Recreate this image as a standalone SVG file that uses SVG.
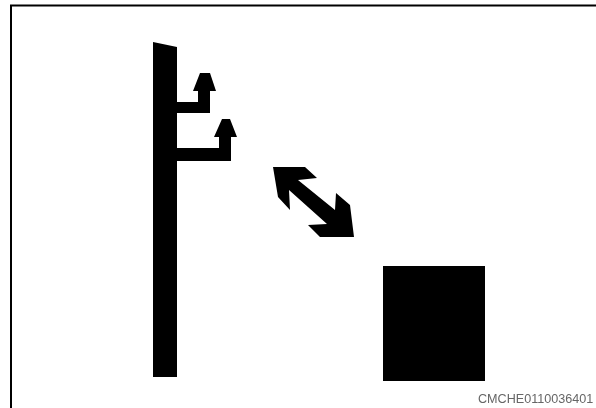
<svg xmlns="http://www.w3.org/2000/svg" width="596" height="408" viewBox="0 0 596 408">
<defs><filter id="soft" x="-10%" y="-10%" width="120%" height="120%"><feGaussianBlur stdDeviation="0.7"/></filter></defs>
<style>.k{fill:#000;filter:url(#soft)}.b{fill:none;stroke:#000;stroke-width:2}.t{font-family:"Liberation Sans",Arial,sans-serif;font-size:12.6px;fill:#666;filter:url(#soft)}</style>
<rect width="596" height="408" fill="#fff"/>
<path class="b" d="M11 408V5.500H596"/>
<g id="pole"><path class="k" d="M153 42L177 47V377H153Z"/>
<path class="k" d="M177 102H198V91H193L200 73H210L216 91H210V113H177Z"/>
<path class="k" d="M177 148H219V137H214L222 119H230L237 137H231V161H177Z"/></g>
<g id="connectors"><path id="double-arrow" class="k" d="M273 167H305L317 178L298 180L335 210L336 193L350 205L354 237H320L308 225L327 224L289 190L290 210L278 197Z"/></g>
<g id="box"><rect class="k" x="383" y="266" width="102" height="115"/></g>
<text class="t" x="478" y="403">CMCHE0110036401</text>
</svg>
